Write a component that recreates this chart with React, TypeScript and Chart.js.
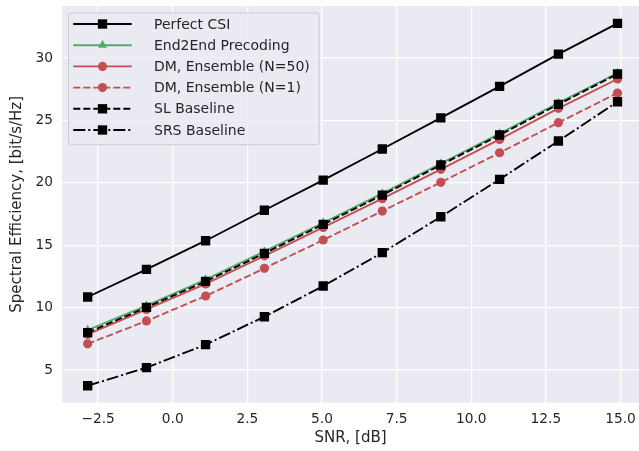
import React, { useEffect, useRef } from 'react';
import { Chart, registerables } from 'chart.js';

Chart.register(...registerables);

// ---- data ----
const snr = [-2.85, -0.88, 1.1, 3.07, 5.04, 7.02, 8.98, 10.95, 12.92, 14.9];
const perfectCSI = [10.85, 13.07, 15.36, 17.8, 20.22, 22.71, 25.2, 27.73, 30.32, 32.78];
const end2end = [8.2, 10.15, 12.25, 14.5, 16.8, 19.15, 21.55, 23.95, 26.4, 28.8];
const dmN50 = [7.85, 9.85, 11.9, 14.15, 16.43, 18.73, 21.08, 23.48, 25.97, 28.32];
const dmN1 = [7.1, 8.93, 10.93, 13.15, 15.42, 17.74, 20.04, 22.41, 24.82, 27.2];
const slBaseline = [8.0, 10.02, 12.1, 14.35, 16.67, 19.02, 21.43, 23.83, 26.29, 28.72];
const srsBaseline = [3.74, 5.19, 7.03, 9.27, 11.73, 14.4, 17.28, 20.28, 23.35, 26.5];

const xTicks = [-2.5, 0, 2.5, 5, 7.5, 10, 12.5, 15];
const yTicks = [5, 10, 15, 20, 25, 30];

const labels = [
  'Perfect CSI',
  'End2End Precoding',
  'DM, Ensemble (N=50)',
  'DM, Ensemble (N=1)',
  'SL Baseline',
  'SRS Baseline',
];
const seriesValues = [perfectCSI, end2end, dmN50, dmN1, slBaseline, srsBaseline];

// ---- styles ----
const BLACK = '#000000';
const GREEN = '#55A868';
const RED = '#C44E52';
const TEXT = '#262626';
const FONT = "'DejaVu Sans', sans-serif";

type Style = { color: string; dash: number[]; marker: 'rect' | 'circle' | 'triangle'; radius: number };
const styles: Style[] = [
  { color: BLACK, dash: [], marker: 'rect', radius: 6.6 },
  { color: GREEN, dash: [], marker: 'triangle', radius: 5.2 },
  { color: RED, dash: [], marker: 'circle', radius: 4.6 },
  { color: RED, dash: [7, 3], marker: 'circle', radius: 4.6 },
  { color: BLACK, dash: [7, 3], marker: 'rect', radius: 6.6 },
  { color: BLACK, dash: [12, 3, 2, 3], marker: 'rect', radius: 6.6 },
];

function drawMarker(ctx: CanvasRenderingContext2D, s: Style, x: number, y: number) {
  ctx.fillStyle = s.color;
  ctx.beginPath();
  if (s.marker === 'rect') {
    const h = s.radius / Math.SQRT2;
    ctx.rect(x - h, y - h, 2 * h, 2 * h);
  } else if (s.marker === 'circle') {
    ctx.arc(x, y, s.radius, 0, Math.PI * 2);
  } else {
    let rad = 0;
    ctx.moveTo(x + Math.sin(rad) * s.radius, y - Math.cos(rad) * s.radius);
    rad += (2 * Math.PI) / 3;
    ctx.lineTo(x + Math.sin(rad) * s.radius, y - Math.cos(rad) * s.radius);
    rad += (2 * Math.PI) / 3;
    ctx.lineTo(x + Math.sin(rad) * s.radius, y - Math.cos(rad) * s.radius);
    ctx.closePath();
  }
  ctx.fill();
}

const bgPlugin = {
  id: 'plotBg',
  beforeDraw(chart: any) {
    const { ctx, chartArea: a } = chart;
    ctx.save();
    ctx.fillStyle = '#EAEAF2';
    ctx.fillRect(a.left, a.top, a.right - a.left, a.bottom - a.top);
    ctx.restore();
  },
};

const legendPlugin = {
  id: 'boxLegend',
  afterDatasetsDraw(chart: any) {
    const { ctx, chartArea: a } = chart;
    const x0 = a.left + 6;
    const y0 = a.top + 6.5;
    const w = 250.7;
    const h = 131.7;
    ctx.save();
    ctx.beginPath();
    (ctx as any).roundRect(x0 + 0.5, y0 + 0.5, w, h, 3);
    ctx.fillStyle = 'rgba(234,234,242,0.8)';
    ctx.fill();
    ctx.strokeStyle = '#CCCCCC';
    ctx.lineWidth = 1;
    ctx.stroke();
    ctx.font = `14px ${FONT}`;
    ctx.textBaseline = 'middle';
    ctx.textAlign = 'left';
    labels.forEach((lab, i) => {
      const s = styles[i];
      const cy = y0 + 11.5 + i * 21.2;
      ctx.strokeStyle = s.color;
      ctx.lineWidth = 1.9;
      ctx.setLineDash(s.dash);
      ctx.beginPath();
      ctx.moveTo(x0 + 5.3, cy);
      ctx.lineTo(x0 + 63.7, cy);
      ctx.stroke();
      ctx.setLineDash([]);
      drawMarker(ctx, s, x0 + 34.5, cy);
      ctx.fillStyle = TEXT;
      ctx.fillText(lab, x0 + 86, cy + 1);
    });
    ctx.restore();
  },
};

const fmtX = (v: number) => {
  const s = Math.abs(v).toFixed(1);
  return v < 0 ? '\u2212' + s : s;
};

export default function App() {
  const ref = useRef<HTMLCanvasElement | null>(null);

  useEffect(() => {
    if (!ref.current) return;
    const datasets = seriesValues.map((vals, i) => ({
      label: labels[i],
      data: snr.map((x, j) => ({ x, y: vals[j] })),
      borderColor: styles[i].color,
      backgroundColor: styles[i].color,
      borderWidth: 1.9,
      borderDash: styles[i].dash,
      pointStyle: styles[i].marker,
      pointRadius: styles[i].radius,
      pointBorderWidth: 0,
      pointBackgroundColor: styles[i].color,
      tension: 0,
      fill: false,
      order: 6 - i,
    }));

    const chart = new Chart(ref.current, {
      type: 'line',
      data: { datasets },
      plugins: [bgPlugin, legendPlugin],
      options: {
        animation: false,
        responsive: false,
        devicePixelRatio: 1,
        layout: { padding: { top: 6, left: 0, right: 0, bottom: 0 }, autoPadding: false },
        plugins: { legend: { display: false }, tooltip: { enabled: false } },
        scales: {
          x: {
            type: 'linear',
            min: -3.71,
            max: 15.62,
            afterFit: (s: any) => {
              s.height = 48.3;
              s.paddingLeft = 0;
              s.paddingRight = 0;
            },
            afterBuildTicks: (s: any) => {
              s.ticks = xTicks.map((v) => ({ value: v }));
            },
            ticks: {
              callback: (v: any) => fmtX(Number(v)),
              font: { family: FONT, size: 13.75 },
              color: TEXT,
              padding: 8,
              maxRotation: 0,
              autoSkip: false,
            },
            grid: { color: '#FFFFFF', lineWidth: 1.25, drawTicks: false },
            border: { display: false },
            title: {
              display: true,
              text: 'SNR, [dB]',
              font: { family: FONT, size: 15 },
              color: TEXT,
              padding: { top: 0, bottom: 4 },
            },
          },
          y: {
            type: 'linear',
            min: 2.38,
            max: 34.17,
            afterFit: (s: any) => {
              s.width = 62;
              s.paddingTop = 0;
              s.paddingBottom = 0;
            },
            afterBuildTicks: (s: any) => {
              s.ticks = yTicks.map((v) => ({ value: v }));
            },
            ticks: {
              callback: (v: any) => String(v),
              font: { family: FONT, size: 13.75 },
              color: TEXT,
              padding: 9,
              autoSkip: false,
            },
            grid: { color: '#FFFFFF', lineWidth: 1.25, drawTicks: false },
            border: { display: false },
            title: {
              display: true,
              text: 'Spectral Efficiency, [bit/s/Hz]',
              font: { family: FONT, size: 15 },
              color: TEXT,
              padding: { top: 8, bottom: 0 },
            },
          },
        },
      } as any,
    });
    return () => chart.destroy();
  }, []);

  return (
    <div style={{ position: 'fixed', left: 0, top: 0, width: 639, height: 451, background: '#FFFFFF' }}>
      <canvas ref={ref} width={639} height={451} style={{ width: 639, height: 451, display: 'block' }} />
    </div>
  );
}
